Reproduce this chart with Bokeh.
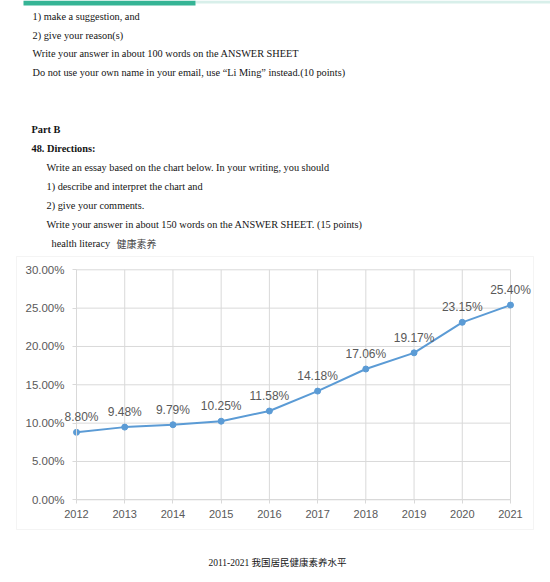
from bokeh.plotting import figure
from bokeh.models import Range1d, FixedTicker, Label, LabelSet, BoxAnnotation, ColumnDataSource, LinearAxis
from bokeh.core.properties import value
from bokeh.embed import file_html
from bokeh.resources import INLINE

# ---- data ----
years = [2012, 2013, 2014, 2015, 2016, 2017, 2018, 2019, 2020, 2021]
values = [8.80, 9.48, 9.79, 10.25, 11.58, 14.18, 17.06, 19.17, 23.15, 25.40]
value_labels = ["8.80%", "9.48%", "9.79%", "10.25%", "11.58%", "14.18%", "17.06%", "19.17%", "23.15%", "25.40%"]
y_ticks = [0, 5, 10, 15, 20, 25, 30]
y_tick_labels = ["0.00%", "5.00%", "10.00%", "15.00%", "20.00%", "25.00%", "30.00%"]
x_tick_labels = ["2012", "2013", "2014", "2015", "2016", "2017", "2018", "2019", "2020", "2021"]
caption = "2011-2021 我国居民健康素养水平"

# ---- layout: the frame covers the whole canvas; plot area placed via ranges ----
W, H = 550, 582
AX_LEFT, AX_RIGHT = 76.0, 510.0      # page x of first / last year
AX_BOTTOM, AX_TOP = 499.3, 269.3     # page y of 0% / 30%
px_per_year = (AX_RIGHT - AX_LEFT) / (years[-1] - years[0])
px_per_pct = (AX_BOTTOM - AX_TOP) / (y_ticks[-1] - y_ticks[0])

x_range = Range1d(years[0] - AX_LEFT / px_per_year, years[-1] + (W - AX_RIGHT) / px_per_year)
y_range = Range1d(y_ticks[0] - (H - AX_BOTTOM) / px_per_pct, y_ticks[-1] + AX_TOP / px_per_pct)

p = figure(width=W, height=H, output_backend="svg", toolbar_location=None,
           x_range=x_range, y_range=y_range, x_axis_location=None, y_axis_location=None,
           min_border=0, min_border_left=0, min_border_right=0, min_border_top=0, min_border_bottom=0)
p.outline_line_color = None
p.background_fill_color = "white"
p.border_fill_color = "white"
p.xgrid.visible = False
p.ygrid.visible = False

SERIF = "Liberation Serif"


def page_text(px, py, text, size="10.3px", font=SERIF, style="normal",
              color="#141414", align="left", baseline="middle"):
    p.add_layout(Label(x=px, y=H - py, x_units="screen", y_units="screen", text=text,
                       text_font=font, text_font_size=size, text_font_style=style,
                       text_color=color, text_align=align, text_baseline=baseline))


def page_box(left, right, top, bottom, fill=None, line=None):
    p.add_layout(BoxAnnotation(left=left, right=right, top=H - top, bottom=H - bottom,
                               left_units="screen", right_units="screen",
                               top_units="screen", bottom_units="screen",
                               fill_color=fill if fill else "white", fill_alpha=1 if fill else 0,
                               line_color=line, line_width=1, level="underlay"))


# header band
page_box(195, 550, 0, 3, fill="#d8efea")
page_box(23, 195, 0, 5, fill="#35b495")

# page text
page_text(32, 16, "1) make a suggestion, and")
page_text(32, 34.5, "2) give your reason(s)")
page_text(32, 53, "Write your answer in about 100 words on the ANSWER SHEET")
page_text(32, 72, "Do not use your own name in your email, use \u201cLi Ming\u201d instead.(10 points)")
page_text(31, 129, "Part B", style="bold")
page_text(31, 148, "48. Directions:", style="bold")
page_text(46, 167, "Write an essay based on the chart below. In your writing, you should")
page_text(46, 186, "1) describe and interpret the chart and")
page_text(46, 205, "2) give your comments.")
page_text(46, 224, "Write your answer in about 150 words on the ANSWER SHEET. (15 points)")
page_text(51, 243, "health literacy")
page_text(116, 243, "健康素养", font="Noto Sans CJK SC", size="10px", color="#444444")
page_text(277, 562, caption, size="9.5px", font=SERIF + ", Noto Sans CJK SC", align="center")

# chart border
page_box(16, 533, 256, 529, line="#d9d9d9")

GRID = "#d9d9d9"
# grid lines limited to the plot area
p.segment(x0=years, x1=years, y0=[y_ticks[0]] * len(years), y1=[y_ticks[-1]] * len(years),
          line_color=GRID, line_width=1)
p.segment(x0=[years[0]] * len(y_ticks), x1=[years[-1]] * len(y_ticks), y0=y_ticks, y1=y_ticks,
          line_color=GRID, line_width=1)

# axes placed inside the frame
xaxis = LinearAxis(fixed_location=y_ticks[0], bounds=(years[0], years[-1]),
                   ticker=FixedTicker(ticks=years),
                   major_label_overrides=dict(zip(years, x_tick_labels)))
yaxis = LinearAxis(fixed_location=years[0], bounds=(y_ticks[0], y_ticks[-1]),
                   ticker=FixedTicker(ticks=y_ticks),
                   major_label_overrides=dict(zip(y_ticks, y_tick_labels)))
for ax, fs in ((xaxis, "11px"), (yaxis, "11.5px")):
    ax.axis_line_color = GRID
    ax.major_tick_line_color = GRID
    ax.major_tick_out = 4
    ax.major_tick_in = 0
    ax.minor_tick_line_color = None
    ax.major_label_text_font = "Liberation Sans"
    ax.major_label_text_font_size = fs
    ax.major_label_text_color = "#595959"
yaxis.major_label_standoff = 8
xaxis.major_label_standoff = 6
p.add_layout(xaxis, "below")
p.add_layout(yaxis, "left")

# series
BLUE = "#5b9bd5"
src = ColumnDataSource(dict(x=years, y=values, label=value_labels,
                            dx=[5 if i == 0 else 0 for i in range(len(years))]))
p.line("x", "y", source=src, line_color=BLUE, line_width=2)
p.scatter("x", "y", source=src, size=6, color=BLUE)
p.add_layout(LabelSet(x="x", y="y", text="label", source=src, x_offset="dx", y_offset=15,
                      text_font=value("Liberation Sans"), text_font_size=value("12px"),
                      text_color="#595959", text_align="center", text_baseline="middle"))

open("out.html", "w").write(file_html(p, INLINE))
